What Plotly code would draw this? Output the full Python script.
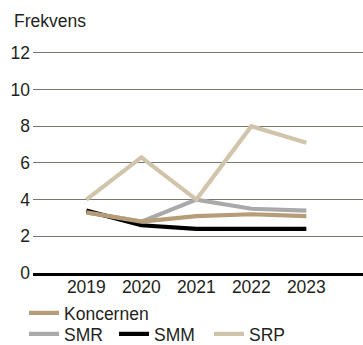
import plotly.graph_objects as go

# Years on the category axis
years = ["2019", "2020", "2021", "2022", "2023"]

# Frequency per unit
koncernen = [3.3, 2.8, 3.1, 3.2, 3.1]
smr = [3.3, 2.8, 4.0, 3.5, 3.4]
smm = [3.4, 2.6, 2.4, 2.4, 2.4]
srp = [4.0, 6.3, 4.0, 8.0, 7.1]

y_ticks = [0, 2, 4, 6, 8, 10, 12]

FONT = "Liberation Sans, Arial, sans-serif"
TEXT = "#231f20"
SIZE = 17.5

fig = go.Figure()

# drawing order: SMR under the others, SRP on top
series = [
    ("SMR", smr, "#a9a9a9", "legend2"),
    ("SMM", smm, "#000000", "legend3"),
    ("Koncernen", koncernen, "#b49d78", "legend"),
    ("SRP", srp, "#d0c5ab", "legend4"),
]
for name, vals, color, leg in series:
    fig.add_trace(go.Scatter(
        x=years, y=vals, name=name, mode="lines",
        line=dict(color=color, width=4.2),
        legend=leg,
    ))

L, R, T, B = 33, 0, 50, 72
W, H = 363, 345
pw, ph = W - L - R, H - T - B


def cx(p):
    return p / W


def cy(p):
    return 1 - p / H


legend_common = dict(
    orientation="h", xanchor="left", yanchor="middle",
    xref="container", yref="container",
    font=dict(family=FONT, size=SIZE, color=TEXT),
    bgcolor="rgba(0,0,0,0)", borderwidth=0,
    tracegroupgap=0,
)

fig.update_layout(
    width=W, height=H,
    margin=dict(l=L, r=R, t=T, b=B, pad=0, autoexpand=False),
    paper_bgcolor="white", plot_bgcolor="white",
    font=dict(family=FONT, size=SIZE, color=TEXT),
    showlegend=True,
    legend=dict(x=cx(24), y=cy(313), **legend_common),
    legend2=dict(x=cx(24), y=cy(334), **legend_common),
    legend3=dict(x=cx(114), y=cy(334), **legend_common),
    legend4=dict(x=cx(209), y=cy(334), **legend_common),
    xaxis=dict(
        type="category", range=[-0.97, 5.03],
        showgrid=False, zeroline=False,
        showline=True, linecolor="#000000", linewidth=2.5,
        ticks="", ticklabelstandoff=-4,
        tickfont=dict(family=FONT, size=SIZE, color=TEXT),
        fixedrange=True,
    ),
    yaxis=dict(
        range=[0, 12.15], tickvals=y_ticks,
        showgrid=True, gridcolor="#77776f", gridwidth=1.2,
        zeroline=False, showline=False,
        ticks="", ticklabelstandoff=2,
        tickfont=dict(family=FONT, size=SIZE, color=TEXT),
        fixedrange=True,
    ),
    annotations=[dict(
        text="Frekvens", xref="paper", yref="paper",
        x=(12 - L) / pw, y=(H - B - 21) / ph,
        xanchor="left", yanchor="middle",
        showarrow=False, font=dict(family=FONT, size=SIZE, color=TEXT),
    )],
)

fig.write_html("out.html")
